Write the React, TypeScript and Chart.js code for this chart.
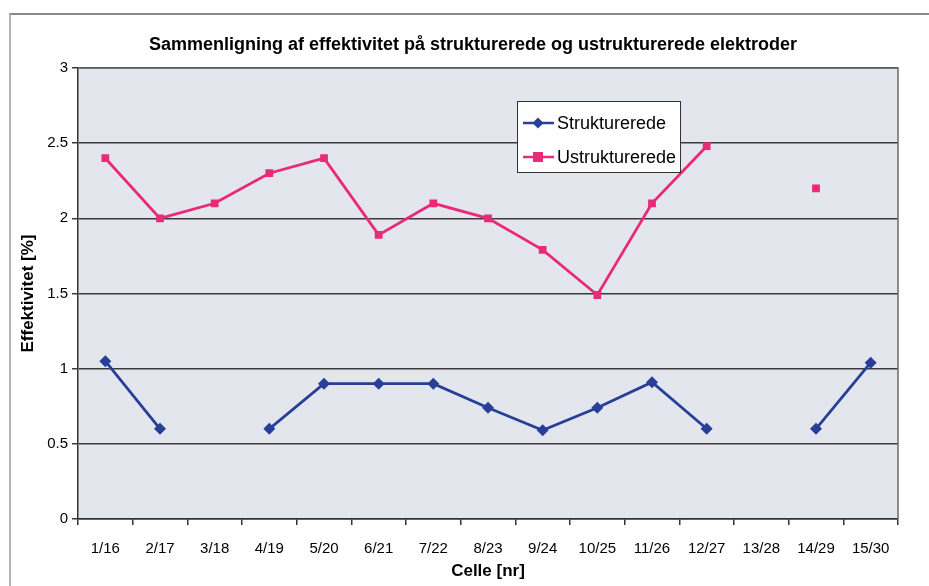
import React, { useEffect, useRef } from "react";
import { Chart, registerables } from "chart.js";

Chart.register(...registerables);

const categories = ["1/16", "2/17", "3/18", "4/19", "5/20", "6/21", "7/22", "8/23", "9/24", "10/25", "11/26", "12/27", "13/28", "14/29", "15/30"];
const strukturerede: (number | null)[] = [1.05, 0.6, null, 0.6, 0.9, 0.9, 0.9, 0.74, 0.59, 0.74, 0.91, 0.6, null, 0.6, 1.04];
const ustrukturerede: (number | null)[] = [2.4, 2.0, 2.1, 2.3, 2.4, 1.89, 2.1, 2.0, 1.79, 1.49, 2.1, 2.48, null, 2.2, null];
const yTicks = [0, 0.5, 1, 1.5, 2, 2.5, 3];
const chartTitle = "Sammenligning af effektivitet på strukturerede og ustrukturerede elektroder";

const BLUE = "#283f98";
const PINK = "#ea2a78";
const FONT = "'Liberation Sans', Arial, sans-serif";

const plotBg = {
  id: "plotBg",
  beforeDraw(chart: any) {
    const { ctx, chartArea: a } = chart;
    ctx.save();
    ctx.fillStyle = "#e3e6ec";
    ctx.fillRect(a.left, a.top, a.right - a.left, a.bottom - a.top);
    ctx.fillStyle = "#000";
    ctx.font = `bold 18px ${FONT}`;
    ctx.textAlign = "center";
    ctx.textBaseline = "middle";
    ctx.fillText(chartTitle, 473, 45);
    ctx.restore();
  },
  afterDatasetsDraw(chart: any) {
    const { ctx, chartArea: a } = chart;
    ctx.save();
    ctx.strokeStyle = "#6b6b6b";
    ctx.lineWidth = 1.5;
    ctx.beginPath();
    ctx.moveTo(a.left, a.top);
    ctx.lineTo(a.right, a.top);
    ctx.lineTo(a.right, a.bottom);
    ctx.stroke();
    ctx.restore();
  },
};

const boxLegend = {
  id: "boxLegend",
  afterDraw(chart: any) {
    const { ctx } = chart;
    const x = 517, y = 101, w = 163, h = 71;
    ctx.save();
    ctx.fillStyle = "#ffffff";
    ctx.fillRect(x, y, w, h);
    ctx.strokeStyle = "#333";
    ctx.lineWidth = 1;
    ctx.strokeRect(x + 0.5, y + 0.5, w, h);
    chart.data.datasets.forEach((ds: any, i: number) => {
      const cy = y + 22 + i * 34;
      ctx.strokeStyle = ds.borderColor;
      ctx.lineWidth = 2.5;
      ctx.beginPath();
      ctx.moveTo(x + 6, cy);
      ctx.lineTo(x + 37, cy);
      ctx.stroke();
      ctx.fillStyle = ds.backgroundColor;
      const cx = x + 21;
      if (ds.pointStyle === "rectRot") {
        ctx.beginPath();
        ctx.moveTo(cx, cy - 5.5);
        ctx.lineTo(cx + 5.5, cy);
        ctx.lineTo(cx, cy + 5.5);
        ctx.lineTo(cx - 5.5, cy);
        ctx.closePath();
        ctx.fill();
      } else {
        ctx.fillRect(cx - 5, cy - 5, 10, 10);
      }
      ctx.fillStyle = "#000";
      ctx.font = `18px ${FONT}`;
      ctx.textBaseline = "middle";
      ctx.textAlign = "left";
      ctx.fillText(ds.label, x + 40, cy + 1);
    });
    ctx.restore();
  },
};

export default function App() {
  const ref = useRef<HTMLCanvasElement>(null);
  useEffect(() => {
    document.body.style.margin = "0";
    const chart = new Chart(ref.current!, {
      type: "line",
      data: {
        labels: categories,
        datasets: [
          {
            label: "Strukturerede",
            data: strukturerede,
            borderColor: BLUE,
            backgroundColor: BLUE,
            borderWidth: 2.8,
            pointStyle: "rectRot",
            pointRadius: 6,
            pointBorderWidth: 0,
            spanGaps: false,
            tension: 0,
          },
          {
            label: "Ustrukturerede",
            data: ustrukturerede,
            borderColor: PINK,
            backgroundColor: PINK,
            borderWidth: 2.8,
            pointStyle: "rect",
            pointRadius: 5.5,
            pointBorderWidth: 0,
            spanGaps: false,
            tension: 0,
          },
        ],
      },
      options: {
        animation: false,
        responsive: false,
        layout: { padding: { left: 0, right: 31, top: 68, bottom: 0 } },
        plugins: {
          legend: { display: false },
          tooltip: { enabled: false },
          title: { display: false },
        },
        scales: {
          x: {
            type: "category",
            offset: true,
            grid: {
              offset: true,
              drawOnChartArea: false,
              drawTicks: true,
              tickLength: 6,
              color: "#333",
              lineWidth: 1.5,
            },
            border: { display: true, color: "#333", width: 1.5 },
            ticks: { color: "#000", font: { family: FONT, size: 15 }, padding: 15, maxRotation: 0, autoSkip: false },
            title: {
              display: true,
              text: "Celle [nr]",
              color: "#000",
              font: { family: FONT, size: 17, weight: "bold" },
              padding: { top: 0, bottom: 4 },
            },
            afterFit(s: any) {
              s.height = 67;
            },
          },
          y: {
            min: 0,
            max: 3,
            afterBuildTicks(s: any) {
              s.ticks = yTicks.map((v) => ({ value: v }));
            },
            grid: { color: "#3a3a3a", lineWidth: 1.5, tickLength: 6, drawTicks: true },
            border: { display: true, color: "#333", width: 1.5 },
            ticks: {
              color: "#000",
              font: { family: FONT, size: 15 },
              padding: 4,
              callback: (v: any) => String(Number(v)),
            },
            title: {
              display: true,
              text: "Effektivitet [%]",
              color: "#000",
              font: { family: FONT, size: 17, weight: "bold" },
              padding: { top: 18, bottom: 0 },
            },
            afterFit(s: any) {
              s.width = 78;
            },
          },
        },
      },
      plugins: [plotBg, boxLegend],
    });
    return () => chart.destroy();
  }, []);
  return (
    <div style={{ position: "relative", width: 929, height: 586, background: "#fff", overflow: "hidden" }}>
      <div
        style={{
          position: "absolute",
          left: 9,
          top: 13,
          width: 960,
          height: 620,
          borderLeft: "2px solid #b5b5b5",
          borderTop: "2px solid #8a8a8a",
        }}
      />
      <canvas ref={ref} width={929} height={586} style={{ position: "absolute", left: 0, top: 0 }} />
    </div>
  );
}
